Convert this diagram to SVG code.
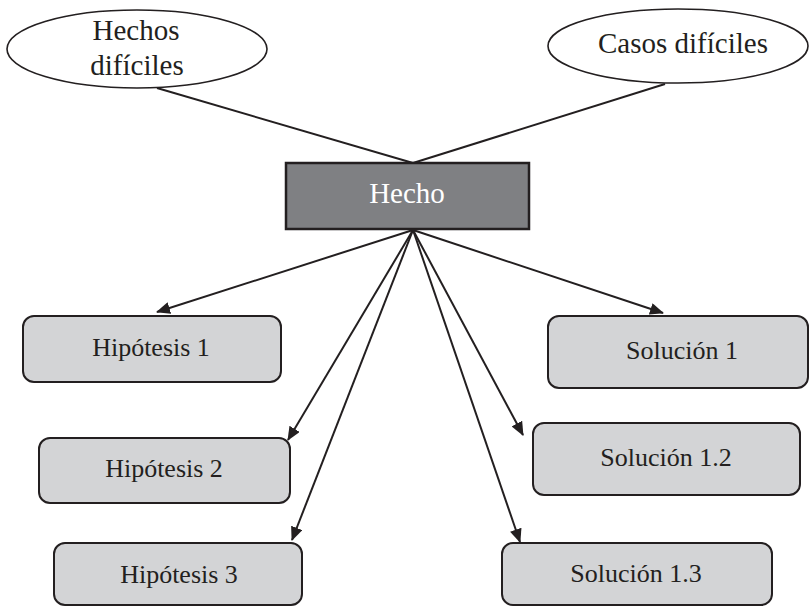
<svg xmlns="http://www.w3.org/2000/svg" width="809" height="606" viewBox="0 0 809 606">
<style>
text{font-family:"Liberation Serif","Times New Roman",serif;fill:#231f20;text-anchor:middle}
.big{font-size:29px}
.box{fill:#d3d4d6;stroke:#231f20;stroke-width:2}
.ell{fill:#fff;stroke:#231f20;stroke-width:1.6}
.ln{stroke:#231f20;stroke-width:2;fill:none}
.sm{font-size:26px}
</style>
<defs>
<marker id="ah" markerUnits="userSpaceOnUse" markerWidth="14" markerHeight="12" refX="13" refY="6" orient="auto">
<path d="M0,0 L14,6 L0,12 Z" fill="#231f20"/>
</marker>
</defs>
<g id="connectors">
<line class="ln" x1="157" y1="88" x2="413" y2="163"/>
<line class="ln" x1="665" y1="84" x2="413" y2="163"/>
<line class="ln" x1="413" y1="230" x2="157" y2="312" marker-end="url(#ah)"/>
<line class="ln" x1="413" y1="230" x2="288" y2="440" marker-end="url(#ah)"/>
<line class="ln" x1="413" y1="230" x2="292" y2="540" marker-end="url(#ah)"/>
<line class="ln" x1="413" y1="230" x2="663" y2="313" marker-end="url(#ah)"/>
<line class="ln" x1="413" y1="230" x2="523" y2="435" marker-end="url(#ah)"/>
<line class="ln" x1="413" y1="230" x2="520" y2="542" marker-end="url(#ah)"/>
</g>
<g id="hechos-dificiles">
<ellipse class="ell" cx="137" cy="49" rx="130" ry="39"/>
<text class="big" x="136" y="40">Hechos</text>
<text class="big" x="137" y="75">difíciles</text>
</g>
<g id="casos-dificiles">
<ellipse class="ell" cx="678" cy="46" rx="130" ry="37"/>
<text class="big" x="683" y="53">Casos difíciles</text>
</g>
<g id="hecho">
<rect x="286" y="163" width="243" height="66" fill="#7f8083" stroke="#231f20" stroke-width="2.5"/>
<text class="big" x="407" y="203" style="fill:#fff">Hecho</text>
</g>
<g id="hipotesis1">
<rect class="box" x="23" y="316" width="258" height="66" rx="11"/>
<text class="sm" x="151" y="356">Hipótesis 1</text>
</g>
<g id="hipotesis2">
<rect class="box" x="39" y="438" width="251" height="65" rx="11"/>
<text class="sm" x="164" y="477">Hipótesis 2</text>
</g>
<g id="hipotesis3">
<rect class="box" x="54" y="543" width="248" height="62" rx="11"/>
<text class="sm" x="179" y="583">Hipótesis 3</text>
</g>
<g id="solucion1">
<rect class="box" x="548" y="316" width="260" height="72" rx="11"/>
<text class="sm" x="682" y="359">Solución 1</text>
</g>
<g id="solucion12">
<rect class="box" x="533" y="423" width="267" height="72" rx="11"/>
<text class="sm" x="666" y="466">Solución 1.2</text>
</g>
<g id="solucion13">
<rect class="box" x="502" y="543" width="270" height="62" rx="11"/>
<text class="sm" x="636" y="582">Solución 1.3</text>
</g>
</svg>
